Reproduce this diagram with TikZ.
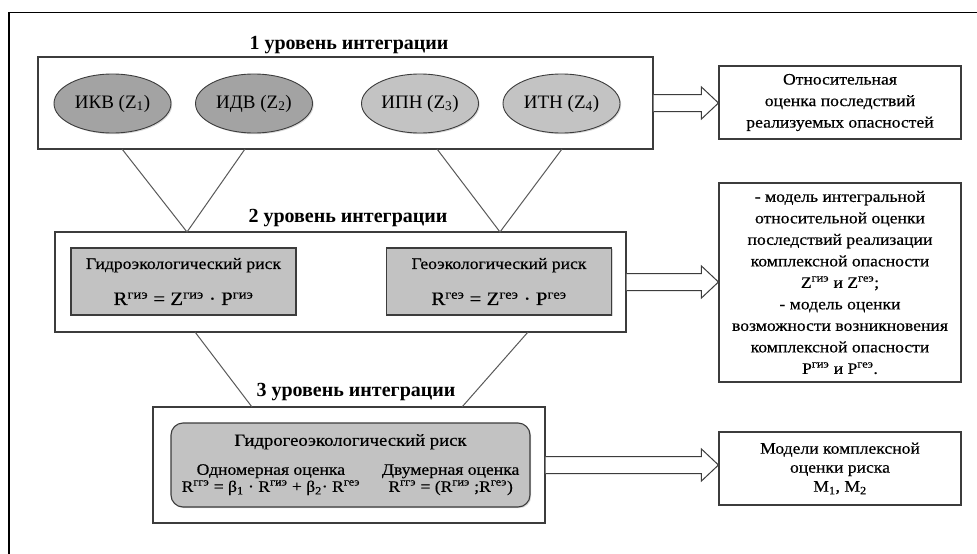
\documentclass[tikz,border=0pt]{standalone}
\usepackage{fontspec}
\usepackage{graphicx}
\setmainfont{Liberation Serif}
\newfontfamily\bodyf{Liberation Serif}[FakeStretch=1.1,FakeBold=0.4]
\usetikzlibrary{shapes.geometric,shadows,calc}
\definecolor{dkfill}{HTML}{A3A3A3}
\definecolor{ltfill}{HTML}{C3C3C3}
\definecolor{bxfill}{HTML}{C2C2C2}
\definecolor{edge}{HTML}{3C3C3C}
\newcommand{\frm}{\fontsize{19}{19}\selectfont}
\begin{document}
\begin{tikzpicture}[x=1pt,y=-1pt,
  frameline/.style={line width=1.5pt, black},
  shd/.style={drop shadow={shadow xshift=1.2pt,shadow yshift=-1.2pt,fill=black!30}},
  box/.style={rectangle, draw=edge, line width=1.1pt, fill=white, inner sep=0pt, shd},
  ell/.style={ellipse, draw=edge, line width=0.9pt, minimum width=117pt, minimum height=59pt, inner sep=0pt, font=\fontsize{19}{22}\selectfont, shd},
  gbox/.style={rectangle, draw=edge, line width=1.1pt, fill=bxfill, inner sep=0pt, align=center, font=\bodyf\fontsize{16}{19}\selectfont, shd},
  ttl/.style={font=\fontsize{20}{24}\selectfont\bfseries, inner sep=0pt},
  res/.style={box, align=center, font=\bodyf\fontsize{16}{21.5}\selectfont, minimum width=242pt},
  conn/.style={draw=edge!85, line width=1pt},
  hollow/.style={draw=edge, line width=1pt, fill=white, line join=miter}
]
\fill[white] (0,0) rectangle (977,554);
\useasboundingbox (0,0) rectangle (977,554);
\draw[frameline] (9,554) -- (9,12.5) -- (977,12.5);

% level 1
\node[ttl] (t1) at (349,45) {1 уровень интеграции};
\node[box, minimum width=615pt, minimum height=92pt] (b1) at (345.5,103) {};
\node[ell, fill=dkfill] (e1) at (112.5,103.5) {ИКВ (Z\textsubscript{1})};
\node[ell, fill=dkfill] (e2) at (254,103.5) {ИДВ (Z\textsubscript{2})};
\node[ell, fill=ltfill] (e3) at (420,103.5) {ИПН (Z\textsubscript{3})};
\node[ell, fill=ltfill] (e4) at (561.5,103.5) {ИТН (Z\textsubscript{4})};
\node[res, minimum height=73pt] (r1) at (840,102.5) {Относительная\\оценка последствий\\реализуемых опасностей};

% level 2
\node[ttl] (t2) at (348,218) {2 уровень интеграции};
\node[box, minimum width=571pt, minimum height=100pt] (b2) at (340.5,282) {};
\node[gbox, minimum width=225pt, minimum height=67pt] (i1) at (183.5,281.5)
  {Гидроэкологический риск\\[17pt]{\frm R\textsuperscript{гиэ} = Z\textsuperscript{гиэ} · P\textsuperscript{гиэ}}};
\node[gbox, minimum width=225pt, minimum height=67pt] (i2) at (499,281.5)
  {Геоэкологический риск\\[17pt]{\frm R\textsuperscript{геэ} = Z\textsuperscript{геэ} · P\textsuperscript{геэ}}};
\node[res, minimum height=199pt] (r2) at (840,282.5)
  {- модель интегральной\\относительной оценки\\последствий реализации\\комплексной опасности\\Z\textsuperscript{гиэ} и Z\textsuperscript{геэ};\\- модель оценки\\возможности возникновения\\комплексной опасности\\P\textsuperscript{гиэ} и P\textsuperscript{геэ}.};

% level 3
\node[ttl] (t3) at (356,392) {3 уровень интеграции};
\node[box, minimum width=392pt, minimum height=116pt] (b3) at (349,465) {};
\node[gbox, rounded corners=12pt, minimum width=359pt, minimum height=84pt] (i3) at (350.5,465)
  {\begin{tabular}{@{}c@{\hspace{22pt}}c@{}}
   \multicolumn{2}{c}{\fontsize{17}{19}\selectfont Гидрогеоэкологический риск}\\[10pt]
   Одномерная оценка & Двумерная оценка\\[-2pt]
   R\textsuperscript{ггэ} = β\textsubscript{1} · R\textsuperscript{гиэ} + β\textsubscript{2}· R\textsuperscript{геэ} &
   R\textsuperscript{ггэ} = (R\textsuperscript{гиэ} ;R\textsuperscript{геэ})
   \end{tabular}};
\node[res, minimum height=73pt, font=\bodyf\fontsize{16}{19}\selectfont] (r3) at (840,468.5) {Модели комплексной\\оценки риска\\M\textsubscript{1}, M\textsubscript{2}};

% connectors level 1 -> 2
\coordinate (u1) at (122,149);
\coordinate (u2) at (245,149);
\coordinate (u3) at (437,149);
\coordinate (u4) at (562,149);
\coordinate (p1) at (187,232);
\coordinate (p2) at (500,232);
\draw[conn] (u1) -- (p1) -- (u2);
\draw[conn] (u3) -- (p2) -- (u4);
% connectors level 2 -> 3
\coordinate (l1) at (195,332);
\coordinate (l2) at (528,332);
\coordinate (m1) at (252,407);
\coordinate (m2) at (462,407);
\draw[conn] (l1) -- (m1);
\draw[conn] (l2) -- (m2);

% hollow arrows
\foreach \s/\t in {b1/r1,b2/r2,b3/r3}{
  \draw[hollow] let \p1=(\s.east), \p2=(\t.west) in
    (\x1,\y1+8.5pt) -- (\x2-17pt,\y1+8.5pt) -- (\x2-17pt,\y1+16pt) -- (\x2,\y1)
    -- (\x2-17pt,\y1-16pt) -- (\x2-17pt,\y1-8.5pt) -- (\x1,\y1-8.5pt);
}
\end{tikzpicture}
\end{document}
